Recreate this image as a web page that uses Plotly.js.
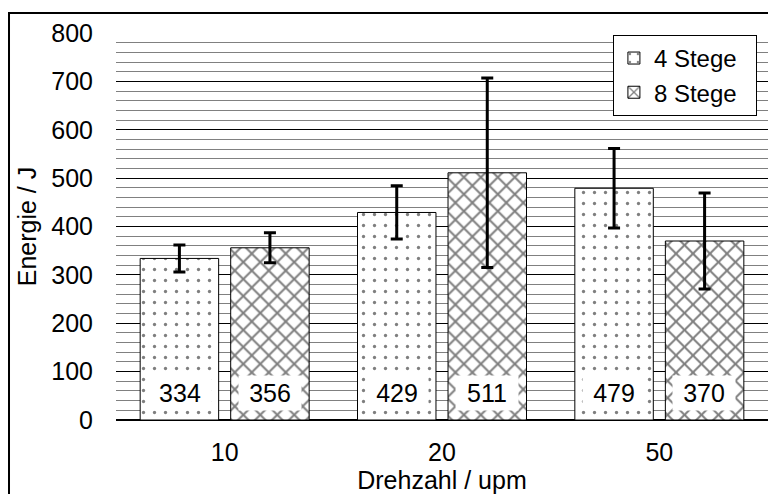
<!DOCTYPE html>
<html>
<head>
<meta charset="utf-8">
<script src="https://cdn.plot.ly/plotly-3.0.1.min.js"></script>
<style>html,body{margin:0;padding:0;background:#fff;}#chart{width:768px;height:494px;}</style>
</head>
<body>
<div id="chart"></div>
<script>
const categories = ['10', '20', '50'];
const seriesNames = ['4 Stege', '8 Stege'];
const values4 = [334, 429, 479];
const values8 = [356, 511, 370];
const err4 = [28, 55, 82];
const err8 = [31, 196, 99];
const yTicks = [0, 100, 200, 300, 400, 500, 600, 700, 800];

const FONT = 'Liberation Sans, Arial, sans-serif';
const PAD = '\u00a0\u00a0';

const traces = [
  {
    type: 'bar', name: seriesNames[0] + PAD, x: categories, y: values4,
    marker: {color: 'white', line: {color: 'black', width: 1},
      pattern: {shape: '.', fgcolor: 'black', bgcolor: 'white', size: 11, solidity: 0.07, fillmode: 'overlay'}},
    error_y: {type: 'data', array: err4, visible: true, color: 'black', thickness: 3, width: 6}
  },
  {
    type: 'bar', name: seriesNames[1] + PAD, x: categories, y: values8,
    marker: {color: 'white', line: {color: 'black', width: 1},
      pattern: {shape: 'x', fgcolor: 'black', bgcolor: 'white', size: 12, solidity: 0.3, fillmode: 'overlay'}},
    error_y: {type: 'data', array: err8, visible: true, color: 'black', thickness: 3, width: 6}
  }
];

const annotations = [];
categories.forEach((c, i) => {
  [[values4[i], -45], [values8[i], 45]].forEach(([v, shift]) => {
    annotations.push({
      x: i, y: 55, xref: 'x', yref: 'y', xshift: shift,
      text: String(v), showarrow: false,
      font: {family: FONT, size: 25, color: 'black'},
      bgcolor: 'white', width: 62, height: 34, borderpad: 0
    });
  });
});

const layout = {
  width: 768, height: 494,
  margin: {l: 116, r: 0, t: 33, b: 74, pad: 0},
  paper_bgcolor: 'white', plot_bgcolor: 'white',
  font: {family: FONT, size: 25, color: 'black'},
  barmode: 'group', bargap: 0.167, bargroupgap: 0.133,
  showlegend: true,
  legend: {
    x: 0.983, xanchor: 'right', y: 0.995, yanchor: 'top',
    bgcolor: 'white', bordercolor: 'black', borderwidth: 1,
    font: {family: FONT, size: 24, color: 'black'}, itemwidth: 30
  },
  xaxis: {
    type: 'category', range: [-0.5, 2.5], autorange: false,
    showgrid: false, showline: false, zeroline: false,
    ticks: 'outside', ticklen: 10, tickcolor: 'rgba(0,0,0,0)',
    tickfont: {family: FONT, size: 25, color: 'black'},
    title: {text: 'Drehzahl / upm', font: {family: FONT, size: 25, color: 'black'}, standoff: 6}
  },
  yaxis: {
    range: [0, 800], autorange: false, tickvals: yTicks, ticktext: yTicks.map(String),
    showgrid: true, gridcolor: 'black', gridwidth: 1,
    minor: {dtick: 20, showgrid: true, gridcolor: '#808080', gridwidth: 1},
    zeroline: true, zerolinecolor: 'black', zerolinewidth: 2,
    showline: false,
    ticks: 'outside', ticklen: 17, tickcolor: 'rgba(0,0,0,0)',
    tickfont: {family: FONT, size: 25, color: 'black'},
    title: {text: 'Energie / J', font: {family: FONT, size: 25, color: 'black'}, standoff: 7}
  },
  annotations: annotations,
  shapes: [{
    type: 'rect', xref: 'paper', yref: 'paper',
    x0: -0.1641, x1: 1.05, y0: -0.3, y1: 1.0517,
    line: {color: 'black', width: 2}, fillcolor: 'rgba(0,0,0,0)', layer: 'above'
  }]
};

Plotly.newPlot('chart', traces, layout, {staticPlot: true, displayModeBar: false});
</script>
</body>
</html>
